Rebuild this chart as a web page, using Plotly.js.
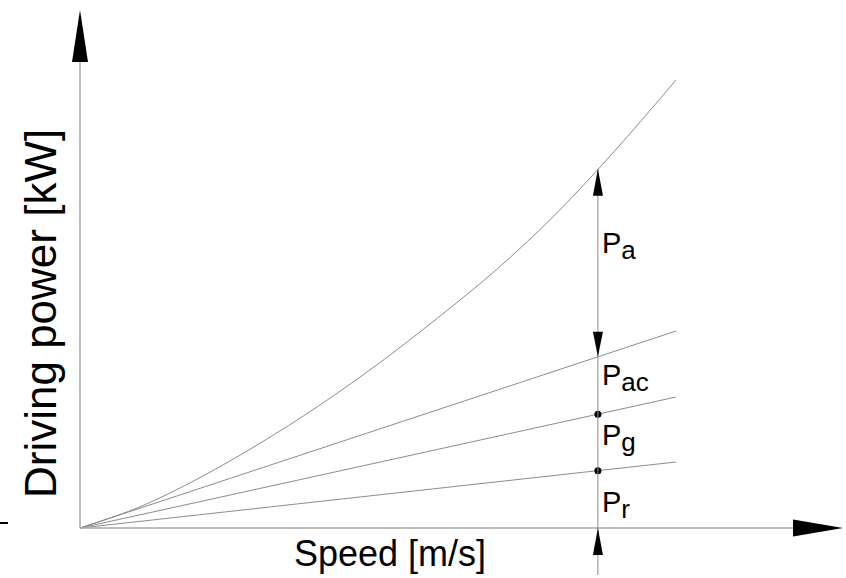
<!DOCTYPE html>
<html>
<head>
<meta charset="utf-8">
<script src="https://cdn.plot.ly/plotly-3.0.1.min.js"></script>
<style>html,body{margin:0;padding:0;background:#fff;}#chart{width:846px;height:578px;}</style>
</head>
<body>
<div id="chart"></div>
<script>
// Speed (arbitrary units) and driving power (arbitrary units)
var speed = [0, 1, 2, 3, 4, 5, 6, 7, 8, 9, 10];
var totalPower = [0, 21, 50, 84, 122, 164, 210, 259, 315, 379, 448];   // Pr + Pg + Pac + Pa (curve)
var lineSpeed = [0, 10];
var rollingPower = [0, 66];           // Pr
var gradePower = [0, 131];            // Pr + Pg
var accelPower = [0, 197];            // Pr + Pg + Pac
var measureSpeed = 8.69;              // speed at which components are marked
var labelSubs = ['a', 'ac', 'g', 'r'];

// scale helpers (pixels per unit) for decoration sizes
var PXX = 59.6, PXY = 1;
var X_MIN = -80 / PXX, X_MAX = (846 - 80) / PXX;
var Y_MIN = -50, Y_MAX = 528;
function interp(xs, ys, x) {
  for (var i = 0; i < xs.length - 1; i++) {
    if (x >= xs[i] && x <= xs[i + 1]) {
      return ys[i] + (ys[i + 1] - ys[i]) * (x - xs[i]) / (xs[i + 1] - xs[i]);
    }
  }
  return ys[ys.length - 1];
}
var yR = interp(lineSpeed, rollingPower, measureSpeed);
var yG = interp(lineSpeed, gradePower, measureSpeed);
var yAc = interp(lineSpeed, accelPower, measureSpeed);
var yTot = interp(speed, totalPower, measureSpeed);

var gray = '#8c8c8c';
var traces = [
  {x: speed, y: totalPower, mode: 'lines', line: {color: gray, width: 1, shape: 'spline', smoothing: 1}, hoverinfo: 'skip'},
  {x: lineSpeed, y: accelPower, mode: 'lines', line: {color: gray, width: 1}, hoverinfo: 'skip'},
  {x: lineSpeed, y: gradePower, mode: 'lines', line: {color: gray, width: 1}, hoverinfo: 'skip'},
  {x: lineSpeed, y: rollingPower, mode: 'lines', line: {color: gray, width: 1}, hoverinfo: 'skip'},
  {x: [measureSpeed, measureSpeed], y: [yG, yR], mode: 'markers', marker: {color: '#000', size: 7}, hoverinfo: 'skip'}
];

function tri(xTip, yTip, dir, halfW, len) {
  var hw, p;
  if (dir === 'up' || dir === 'down') {
    hw = halfW / PXX; var s = dir === 'up' ? -1 : 1; var base = yTip + s * len / PXY;
    p = 'M' + (xTip - hw) + ',' + base + ' L' + xTip + ',' + yTip + ' L' + (xTip + hw) + ',' + base + ' Z';
  } else {
    hw = halfW / PXY; var bx = xTip - len / PXX;
    p = 'M' + bx + ',' + (yTip - hw) + ' L' + xTip + ',' + yTip + ' L' + bx + ',' + (yTip + hw) + ' Z';
  }
  return {type: 'path', xref: 'x', yref: 'y', path: p, fillcolor: '#000', line: {width: 0}, layer: 'above'};
}

var axisTipY = 518, axisTipX = (843 - 80) / PXX;
var shapes = [
  {type: 'line', xref: 'x', yref: 'y', x0: 0, x1: 0, y0: 0, y1: axisTipY - 40, line: {color: '#a8a8a8', width: 1.5}},
  tri(0, axisTipY, 'up', 8, 52),
  {type: 'line', xref: 'x', yref: 'y', x0: 0, x1: axisTipX - 40 / PXX, y0: 0, y1: 0, line: {color: '#a8a8a8', width: 1.5}},
  tri(axisTipX, 0, 'right', 8.5, 50),
  {type: 'line', xref: 'x', yref: 'y', x0: measureSpeed, x1: measureSpeed, y0: -47, y1: yTot, line: {color: gray, width: 1}},
  tri(measureSpeed, yTot, 'up', 5, 27),
  tri(measureSpeed, yAc, 'down', 5, 25),
  tri(measureSpeed, 0, 'up', 5, 27),
  {type: 'line', xref: 'x', yref: 'y', x0: X_MIN, x1: X_MIN + 8 / PXX, y0: 5, y1: 5, line: {color: '#000', width: 2}}
];

var labelY = [(yTot + yAc) / 2, (yAc + yG) / 2, (yG + yR) / 2, yR / 2];
var labelShift = [17, 7, 4, -6];
var labelFont = {family: 'Liberation Sans, Arial, sans-serif', size: 29, color: '#000'};
var annotations = labelSubs.map(function (s, i) {
  return {x: measureSpeed, y: labelY[i], xref: 'x', yref: 'y',
          text: 'P<sub><span style="font-size:26px">' + s + '</span></sub>', showarrow: false,
          xanchor: 'left', yanchor: 'middle', xshift: 2, yshift: labelShift[i], font: labelFont};
});
annotations.push({x: (390 - 80) / PXX, y: -25, xref: 'x', yref: 'y', text: 'Speed [m/s]', showarrow: false,
  xanchor: 'center', yanchor: 'middle', font: {family: 'Liberation Sans, Arial, sans-serif', size: 36, color: '#000'}});
annotations.push({x: X_MIN + 40 / PXX, y: 214, xref: 'x', yref: 'y', text: 'Driving power [kW]', showarrow: false, textangle: -90,
  xanchor: 'center', yanchor: 'middle', font: {family: 'Liberation Sans, Arial, sans-serif', size: 44, color: '#000'}});

var layout = {
  width: 846, height: 578,
  margin: {l: 0, r: 0, t: 0, b: 0, pad: 0},
  paper_bgcolor: '#fff', plot_bgcolor: '#fff',
  showlegend: false,
  xaxis: {range: [X_MIN, X_MAX], visible: false, fixedrange: true},
  yaxis: {range: [Y_MIN, Y_MAX], visible: false, fixedrange: true},
  shapes: shapes,
  annotations: annotations
};
Plotly.newPlot('chart', traces, layout, {displayModeBar: false, staticPlot: true});
</script>
</body>
</html>
